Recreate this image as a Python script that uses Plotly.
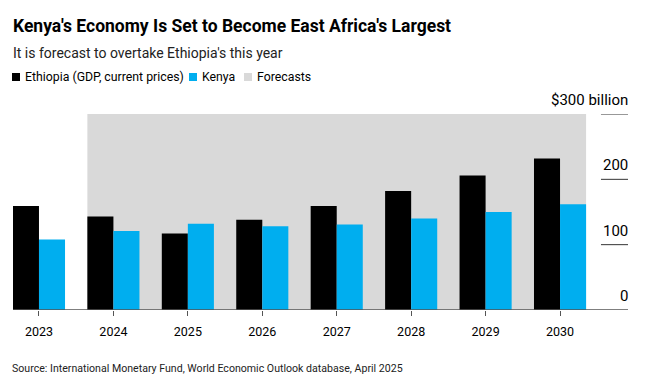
import plotly.graph_objects as go

years = ["2023", "2024", "2025", "2026", "2027", "2028", "2029", "2030"]
ethiopia = [159, 143, 117, 138, 159, 182, 206, 232]
kenya = [108, 121, 132, 128, 131, 140, 150, 162]
forecast_start = "2024"
y_ticks = [0, 100, 200, 300]
y_tick_labels = ["0", "100", "200", "$300 billion"]

title = "Kenya's Economy Is Set to Become East Africa's Largest"
subtitle = "It is forecast to overtake Ethiopia's this year"
source = "Source: International Monetary Fund, World Economic Outlook database, April 2025"

# page body margin in the viewer offsets the figure by 8px
OFF = 8
W, H = 648, 384
L, R, T = 13 - OFF, W - (628 - OFF), 114 - OFF
B = H - (310 - OFF)
PW, PH = W - L - R, H - T - B

def px(x):
    return (x - OFF - L) / PW

def py(y):
    return (H - B - (y - OFF)) / PH

FONT = "Roboto, Liberation Sans, Arial, sans-serif"
BLACK = "#000000"
BLUE = "#00AEEF"
GREY = "#D9D9D9"

xs = list(range(len(years)))
bw = 0.35
xmin, xmax = -0.349, 7.913

fig = go.Figure()
fig.add_trace(go.Bar(x=xs, y=ethiopia, width=bw, offset=-bw, marker=dict(color=BLACK, line=dict(width=0)), name="Ethiopia"))
fig.add_trace(go.Bar(x=xs, y=kenya, width=bw, offset=0, marker=dict(color=BLUE, line=dict(width=0)), name="Kenya"))

fs = years.index(forecast_start)
shapes = [
    dict(type="rect", xref="x", yref="y", x0=fs - bw, x1=len(years) - 1 + bw, y0=0, y1=300,
         fillcolor=GREY, line=dict(width=0), layer="below"),
    dict(type="line", xref="x", yref="y", x0=xmin, x1=xmax, y0=0, y1=0, line=dict(color="#555555", width=1.3)),
]
for v in y_ticks[1:]:
    shapes.append(dict(type="line", xref="x", yref="y", x0=7.55, x1=xmax, y0=v, y1=v, line=dict(color="#333333", width=1)))

annotations = []
for v, lab in zip(y_ticks, y_tick_labels):
    annotations.append(dict(x=xmax, y=v, xref="x", yref="y", text=lab, showarrow=False,
                            xanchor="right", yanchor="middle", yshift=14, xshift=2,
                            font=dict(family=FONT, size=15, color="#000")))

annotations.append(dict(x=px(11), y=py(26), xref="paper", yref="paper", text="<b>" + title + "</b>",
                        showarrow=False, xanchor="left", yanchor="middle", font=dict(family=FONT, size=17.5, color="#000")))
annotations.append(dict(x=px(11), y=py(53), xref="paper", yref="paper", text=subtitle,
                        showarrow=False, xanchor="left", yanchor="middle", font=dict(family=FONT, size=14, color="#222")))
annotations.append(dict(x=px(10), y=py(368), xref="paper", yref="paper", text=source,
                        showarrow=False, xanchor="left", yanchor="middle", font=dict(family=FONT, size=10.6, color="#222")))

legend_items = [("Ethiopia (GDP, current prices)", BLACK, 12), ("Kenya", BLUE, 189), ("Forecasts", GREY, 244)]
for name, col, x0 in legend_items:
    shapes.append(dict(type="rect", xref="paper", yref="paper", x0=px(x0), x1=px(x0 + 8), y0=py(81), y1=py(73),
                       fillcolor=col, line=dict(width=0)))
    annotations.append(dict(x=px(x0 + 11), y=py(77), xref="paper", yref="paper", text=name, showarrow=False,
                            xanchor="left", yanchor="middle", font=dict(family=FONT, size=12.3, color="#000")))

fig.update_layout(
    width=W, height=H,
    margin=dict(l=L, r=R, t=T, b=B),
    paper_bgcolor="white", plot_bgcolor="white",
    showlegend=False,
    barmode="overlay",
    shapes=shapes, annotations=annotations,
    xaxis=dict(range=[xmin, xmax], tickmode="array", tickvals=xs, ticktext=years,
               ticks="outside", ticklen=5, tickcolor="#555555", tickwidth=1, ticklabelstandoff=5,
               showgrid=False, zeroline=False, showline=False, automargin=False,
               tickfont=dict(family=FONT, size=12.5, color="#000"), fixedrange=True),
    yaxis=dict(range=[0, 300], showgrid=False, zeroline=False, showticklabels=False, showline=False,
               automargin=False, fixedrange=True),
    font=dict(family=FONT),
)

fig.write_html("out.html")
